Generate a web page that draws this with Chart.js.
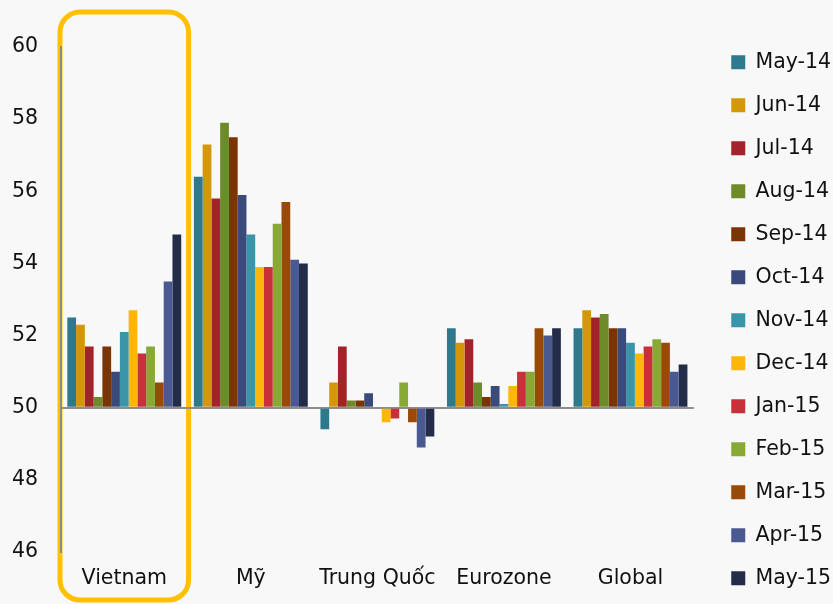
<!DOCTYPE html>
<html>
<head>
<meta charset="utf-8">
<script src="https://cdn.jsdelivr.net/npm/chart.js@4.4.1/dist/chart.umd.min.js"></script>
<style>
  html, body { margin: 0; padding: 0; background: #F8F8F9; }
  #wrap { width: 833px; height: 604px; }
</style>
</head>
<body>
<div id="wrap"><canvas id="pmi" width="833" height="604"></canvas></div>
<script>
// PMI readings by region, one value per month (May-14 .. May-15)
const regions = ['Vietnam', 'Mỹ', 'Trung Quốc', 'Eurozone', 'Global'];
const months = ['May-14', 'Jun-14', 'Jul-14', 'Aug-14', 'Sep-14', 'Oct-14', 'Nov-14',
                'Dec-14', 'Jan-15', 'Feb-15', 'Mar-15', 'Apr-15', 'May-15'];

const vietnam   = [52.5, 52.3, 51.7, 50.3, 51.7, 51.0, 52.1, 52.7, 51.5, 51.7, 50.7, 53.5, 54.8];
const my        = [56.4, 57.3, 55.8, 57.9, 57.5, 55.9, 54.8, 53.9, 53.9, 55.1, 55.7, 54.1, 54.0];
const trungQuoc = [49.4, 50.7, 51.7, 50.2, 50.2, 50.4, 50.0, 49.6, 49.7, 50.7, 49.6, 48.9, 49.2];
const eurozone  = [52.2, 51.8, 51.9, 50.7, 50.3, 50.6, 50.1, 50.6, 51.0, 51.0, 52.2, 52.0, 52.2];
const global    = [52.2, 52.7, 52.5, 52.6, 52.2, 52.2, 51.8, 51.5, 51.7, 51.9, 51.8, 51.0, 51.2];

const yTicks = [46, 48, 50, 52, 54, 56, 58, 60];

const monthColors = ['#2E7A8C', '#D4970A', '#A3232A', '#6E8B2A', '#7A3505', '#3A4A7A', '#3B95A8',
                     '#FFB60A', '#C8313A', '#88AA35', '#994A08', '#4A5A90', '#232D4A'];

const byRegion = [vietnam, my, trungQuoc, eurozone, global];
const datasets = months.map((m, i) => ({
  label: m,
  data: byRegion.map(r => r[i]),
  backgroundColor: monthColors[i],
  borderWidth: 0,
  base: 50,
  categoryPercentage: 0.9,
  barPercentage: 1.0
}));

const FONT = { family: '"DejaVu Sans", Verdana, sans-serif', size: 20.5 };
const TEXT = '#111111';
const AXIS = '#8C8C8C';

// page background plus the rounded frame that highlights the first region
const framePlugin = {
  id: 'frame',
  beforeDraw(chart) {
    const { ctx, chartArea, scales } = chart;
    ctx.save();
    ctx.fillStyle = '#F8F8F9';
    ctx.fillRect(0, 0, chart.width, chart.height);

    const x = scales.x;
    const c0 = x.getPixelForValue(0);
    const step = x.getPixelForValue(1) - c0;
    const left = c0 - step / 2 - 1;
    const right = c0 + step / 2 + 1;
    const top = chartArea.top - 35;
    const bottom = chart.height - 4;
    ctx.strokeStyle = '#FFC000';
    ctx.lineWidth = 5;
    ctx.beginPath();
    ctx.roundRect(left, top, right - left, bottom - top, 20);
    ctx.stroke();
    ctx.restore();
  }
};

new Chart(document.getElementById('pmi'), {
  type: 'bar',
  data: { labels: regions, datasets },
  plugins: [framePlugin],
  options: {
    responsive: false,
    devicePixelRatio: 1,
    animation: false,
    layout: { padding: { left: 12, right: -8, top: 0, bottom: -7 } },
    plugins: {
      tooltip: { enabled: false },
      legend: {
        position: 'right',
        align: 'end',
        labels: {
          font: FONT,
          color: TEXT,
          boxWidth: 14,
          boxHeight: 14,
          padding: 22.5
        }
      }
    },
    scales: {
      x: {
        type: 'category',
        position: 'bottom',
        grid: { display: false },
        border: { display: false },
        ticks: { font: FONT, color: TEXT, padding: 6, maxRotation: 0 },
        afterFit(s) { s.height = 59; }
      },
      xTop: {
        type: 'category',
        position: 'top',
        display: true,
        grid: { display: false },
        border: { display: false },
        ticks: { display: false },
        afterFit(s) { s.height = 47; }
      },
      y: {
        type: 'linear',
        position: 'left',
        min: 46,
        max: 60,
        afterBuildTicks(s) { s.ticks = yTicks.map(v => ({ value: v })); },
        ticks: { font: FONT, color: TEXT, padding: 23 },
        grid: {
          drawTicks: false,
          lineWidth: 2,
          color: c => (c.tick && c.tick.value === 50 ? AXIS : 'rgba(0,0,0,0)')
        },
        border: { display: true, color: AXIS, width: 2 },
        afterFit(s) { s.width = 49; }
      },
      yRight: {
        type: 'linear',
        position: 'right',
        display: true,
        grid: { display: false },
        border: { display: false },
        ticks: { display: false },
        afterFit(s) { s.width = 15; }
      }
    }
  }
});
</script>
</body>
</html>
